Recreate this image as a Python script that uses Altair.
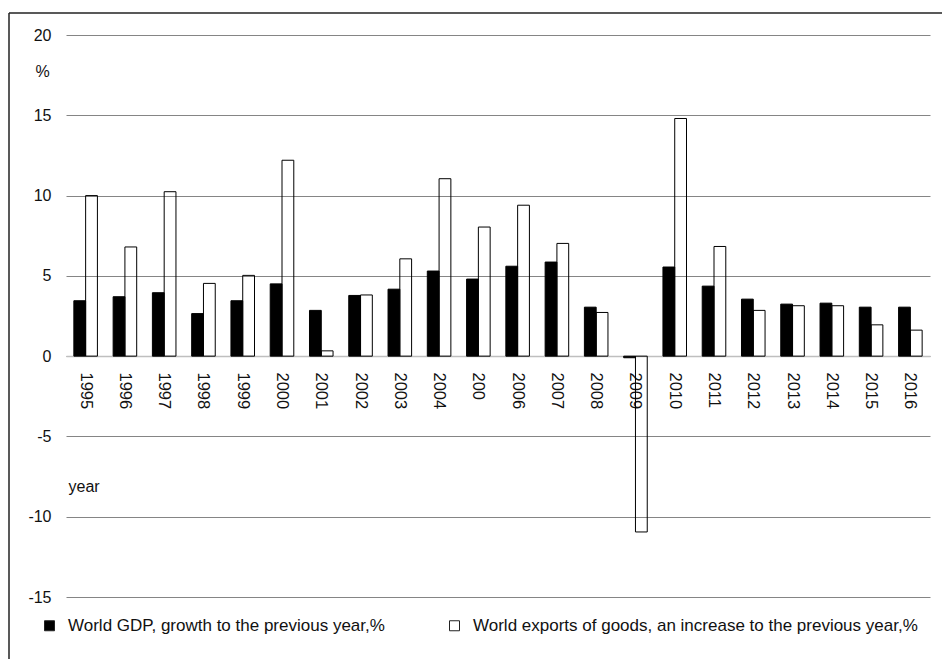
import altair as alt
import pandas as pd

# Annual growth rates, %
years = ["1995", "1996", "1997", "1998", "1999", "2000", "2001", "2002", "2003",
         "2004", "200", "2006", "2007", "2008", "2009", "2010", "2011", "2012",
         "2013", "2014", "2015", "2016"]
gdp_growth = [3.45, 3.7, 3.95, 2.65, 3.45, 4.5, 2.85, 3.78, 4.17, 5.3, 4.8, 5.6,
              5.86, 3.05, -0.1, 5.55, 4.36, 3.55, 3.24, 3.3, 3.05, 3.05]
export_growth = [10.0, 6.8, 10.24, 4.53, 5.03, 12.2, 0.33, 3.81, 6.06, 11.05, 8.04,
                 9.4, 7.02, 2.72, -10.95, 14.8, 6.83, 2.85, 3.14, 3.14, 1.95, 1.62]

series_names = ["World GDP, growth to the previous year,%",
                "World exports of goods, an increase to the previous year,%"]

rows = []
for i, y in enumerate(years):
    rows.append({"year": y, "series": series_names[0], "value": gdp_growth[i]})
    rows.append({"year": y, "series": series_names[1], "value": export_growth[i]})
df = pd.DataFrame(rows)

FONT = "Liberation Sans"

bars = alt.Chart(df).mark_bar(stroke="black", strokeWidth=1).encode(
    x=alt.X("year:N", sort=years,
            scale=alt.Scale(paddingInner=0.4, paddingOuter=0.2),
            axis=alt.Axis(title="year", orient="bottom", offset=-241,
                          labelAngle=90, labelAlign="left", labelBaseline="middle",
                          labelPadding=16, ticks=False, grid=False,
                          domainColor="#bfbfbf", domainWidth=1.5,
                          labelFont=FONT, labelFontSize=16.5, labelColor="#111",
                          titleFont=FONT, titleFontSize=16, titleFontWeight="normal",
                          titleColor="#111", titleX=2, titleY=130,
                          titleAlign="left", titleBaseline="middle",
                          labelOverlap=False)),
    xOffset=alt.XOffset("series:N", sort=series_names,
                        scale=alt.Scale(paddingInner=0, paddingOuter=0)),
    y=alt.Y("value:Q",
            scale=alt.Scale(domain=[-15, 20], nice=False),
            axis=alt.Axis(title="%", values=[-15, -10, -5, 0, 5, 10, 15, 20],
                          labelExpr="'' + datum.value",
                          domain=False, ticks=False, labelPadding=15,
                          gridColor="#858585", gridWidth=1,
                          labelFont=FONT, labelFontSize=16, labelColor="#111",
                          titleFont=FONT, titleFontSize=16, titleFontWeight="normal",
                          titleColor="#111", titleAngle=0, titleX=-24, titleY=36,
                          titleAlign="center", titleBaseline="middle")),
    fill=alt.Fill("series:N", sort=series_names,
                  scale=alt.Scale(domain=series_names, range=["#000000", "#ffffff"]),
                  legend=alt.Legend(title=None, orient="none", legendX=-25, legendY=582,
                                    direction="horizontal", symbolType="square",
                                    symbolSize=100, symbolStrokeColor="#222",
                                    symbolStrokeWidth=1, labelOffset=10,
                                    labelLimit=0, columnPadding=61, labelFont=FONT,
                                    labelFontSize=17, labelColor="#111")),
    fillOpacity=alt.condition(alt.datum.series == series_names[1],
                              alt.value(0), alt.value(1)),
)

# Outer frame along the left and top edges
frame_data = pd.DataFrame({"k": [0]})
frame_left = alt.Chart(frame_data).mark_rule(color="#222", strokeWidth=1.5).encode(
    x=alt.value(-57), y=alt.value(-22), y2=alt.value(700))
frame_top = alt.Chart(frame_data).mark_rule(color="#222", strokeWidth=1.5).encode(
    x=alt.value(-57), x2=alt.value(900), y=alt.value(-22))

chart = alt.layer(bars, frame_left, frame_top).properties(
    width=864, height=562,
    padding={"left": 66, "top": 35, "right": 12, "bottom": 62},
    autosize=alt.AutoSizeParams(type="none"),
    background="white",
).configure_view(stroke=None)

chart.save("out.html", embed_options={"renderer": "svg", "actions": False})
